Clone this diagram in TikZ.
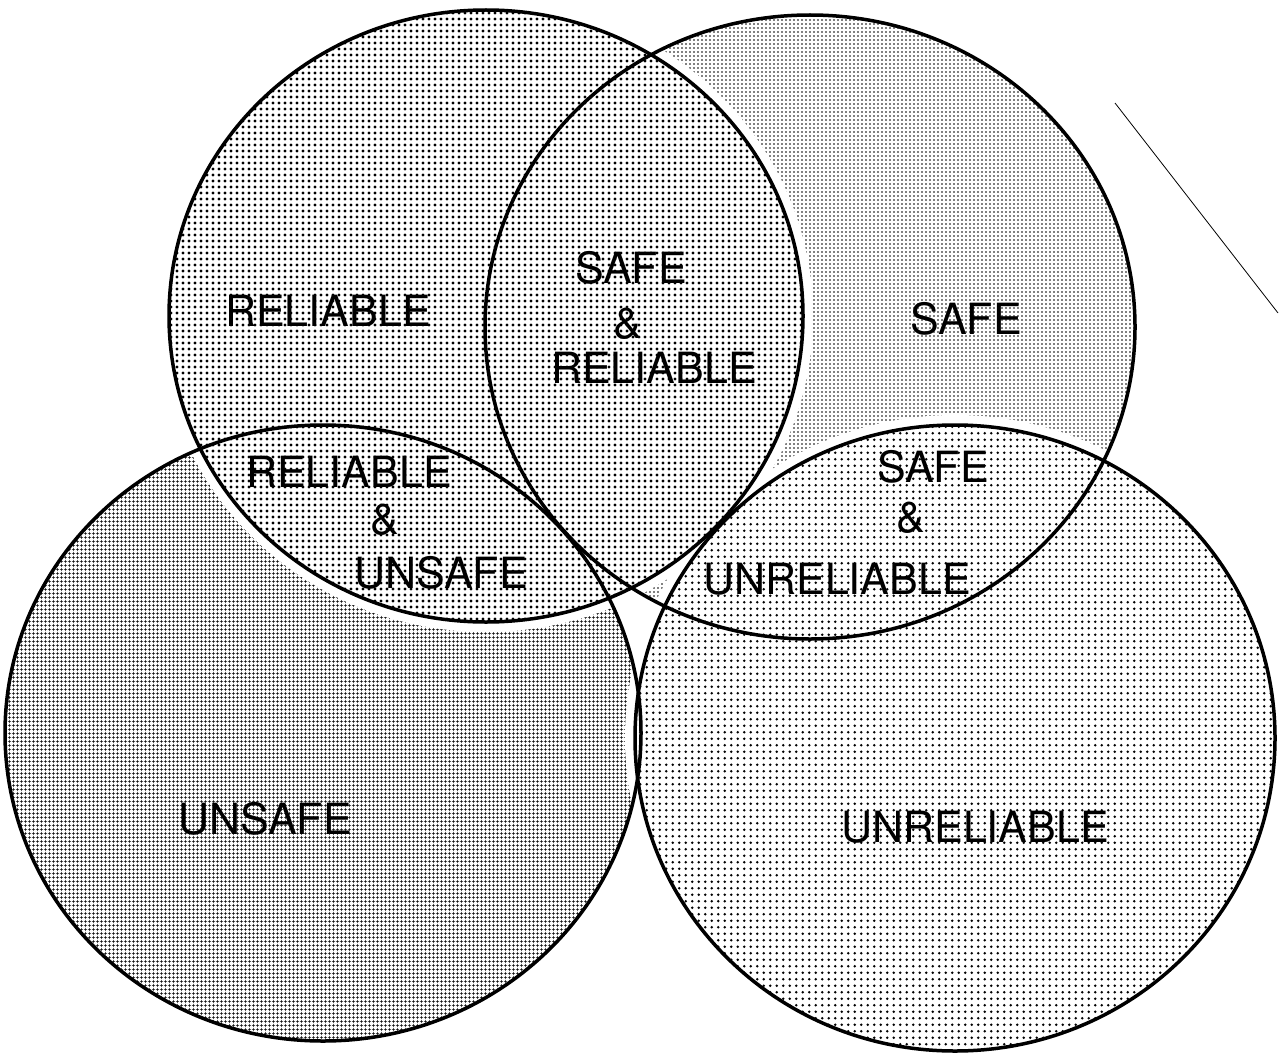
\documentclass[tikz,border=0pt]{standalone}
\usepackage{fontspec}
\setmainfont{TeX Gyre Heros}
\usetikzlibrary{patterns}

% stipple screens of the four sets
\pgfdeclarepatternformonly{relydots}{\pgfpoint{-1pt}{-1pt}}{\pgfpoint{7pt}{7pt}}{\pgfpoint{6pt}{6pt}}%
  {\pgfpathcircle{\pgfpoint{3pt}{3pt}}{1.7pt}\pgfusepath{fill}}
\pgfdeclarepatternformonly{unrelydots}{\pgfpoint{-1pt}{-1pt}}{\pgfpoint{7.5pt}{7.5pt}}{\pgfpoint{6.5pt}{6.5pt}}%
  {\pgfpathcircle{\pgfpoint{3.25pt}{3.25pt}}{1.4pt}\pgfusepath{fill}}
\pgfdeclarepatternformonly{safedots}{\pgfpoint{-1pt}{-1pt}}{\pgfpoint{5pt}{5pt}}{\pgfpoint{4pt}{4pt}}%
  {\pgfpathcircle{\pgfpoint{2pt}{2pt}}{0.85pt}\pgfusepath{fill}}
\pgfdeclarepatternformonly{unsafegrid}{\pgfpoint{0pt}{0pt}}{\pgfpoint{4pt}{4pt}}{\pgfpoint{4pt}{4pt}}%
  {\pgfsetlinewidth{0.8pt}\pgfpathmoveto{\pgfpoint{0pt}{2pt}}\pgfpathlineto{\pgfpoint{4pt}{2pt}}%
   \pgfpathmoveto{\pgfpoint{2pt}{0pt}}\pgfpathlineto{\pgfpoint{2pt}{4pt}}\pgfusepath{stroke}}

\begin{document}
\begin{tikzpicture}[x=1pt,y=-1pt,
  lbl/.style={inner sep=0pt,font=\fontsize{43}{50}\selectfont},
  rim/.style={line width=3.5pt},
  halo/.style={white,line width=20pt}]
  \useasboundingbox (0,0) rectangle (1281,1054);
  % light sets first
  \fill[pattern=unsafegrid] (323,733) ellipse [x radius=318,y radius=308];
  \fill[pattern=safedots] (810,327) ellipse [x radius=325,y radius=312];
  \draw[halo] (486,316) ellipse [x radius=317,y radius=306];
  \draw[halo] (955,738) ellipse [x radius=320,y radius=313];
  % coarse dots on top
  \fill[white] (486,316) ellipse [x radius=317,y radius=306];
  \fill[pattern=relydots] (486,316) ellipse [x radius=317,y radius=306];
  \fill[white] (955,738) ellipse [x radius=320,y radius=313];
  \fill[pattern=unrelydots] (955,738) ellipse [x radius=320,y radius=313];
  % outlines
  \draw[rim] (486,316) ellipse [x radius=317,y radius=306];
  \draw[rim] (810,327) ellipse [x radius=325,y radius=312];
  \draw[rim] (323,733) ellipse [x radius=318,y radius=308];
  \draw[rim] (955,738) ellipse [x radius=320,y radius=313];
  \draw[line width=0.8pt] (1115,103) -- (1278,313);
  % labels
  \node[lbl] (rely) at (328,311) {RELIABLE};
  \node[lbl] (srsafe) at (631,268) {SAFE};
  \node[lbl] (sramp) at (628,324) {\&};
  \node[lbl] (srrely) at (654,368) {RELIABLE};
  \node[lbl] (safe) at (966,319) {SAFE};
  \node[lbl] (rurely) at (349,472) {RELIABLE};
  \node[lbl] (ruamp) at (385,520) {\&};
  \node[lbl] (ruunsafe) at (441,573) {UNSAFE};
  \node[lbl] (susafe) at (933,467) {SAFE};
  \node[lbl] (suamp) at (911,518) {\&};
  \node[lbl] (suunrely) at (837,579) {UNRELIABLE};
  \node[lbl] (unsafe) at (265,819) {UNSAFE};
  \node[lbl] (unrely) at (975,827) {UNRELIABLE};
\end{tikzpicture}
\end{document}
